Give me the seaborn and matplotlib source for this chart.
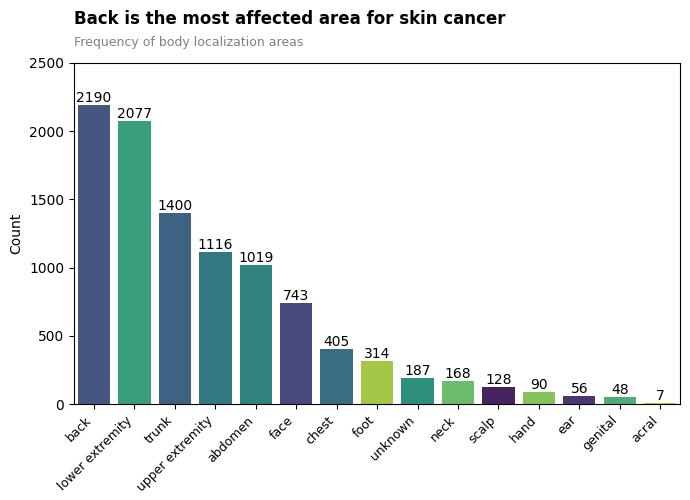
import pandas as pd
import seaborn as sns
import matplotlib.pyplot as plt

# localization counts, sorted by frequency
localization = ["back", "lower extremity", "trunk", "upper extremity", "abdomen", "face",
                "chest", "foot", "unknown", "neck", "scalp", "hand", "ear", "genital", "acral"]
counts = [2190, 2077, 1400, 1116, 1019, 743, 405, 314, 187, 168, 128, 90, 56, 48, 7]

# order in which areas show up in the dataset (drives the palette)
appearance_order = ["scalp", "ear", "face", "back", "trunk", "chest", "upper extremity", "abdomen",
                    "unknown", "lower extremity", "genital", "neck", "hand", "foot", "acral"]

data = pd.DataFrame({"localization": localization, "count": counts})

fig, ax = plt.subplots(figsize=(6.9, 5), dpi=100)
fig.subplots_adjust(left=0.107, right=0.986, top=0.874, bottom=0.192)

sns.barplot(data=data, x="localization", y="count", hue="localization",
            hue_order=appearance_order, order=localization, palette="viridis",
            legend=False, ax=ax)

for c in ax.containers:
    ax.bar_label(c, fontsize=10)

ax.set_ylim(0, 2500)
ax.set_xlabel("")
ax.set_ylabel("Count")
plt.setp(ax.get_xticklabels(), rotation=45, ha="right", fontsize=9)

fig.text(0.107, 0.962, "Back is the most affected area for skin cancer",
         fontsize=12, fontweight="bold", va="center")
fig.text(0.107, 0.915, "Frequency of body localization areas",
         fontsize=9, color="gray", va="center")

plt.savefig("out.png", dpi=100)
